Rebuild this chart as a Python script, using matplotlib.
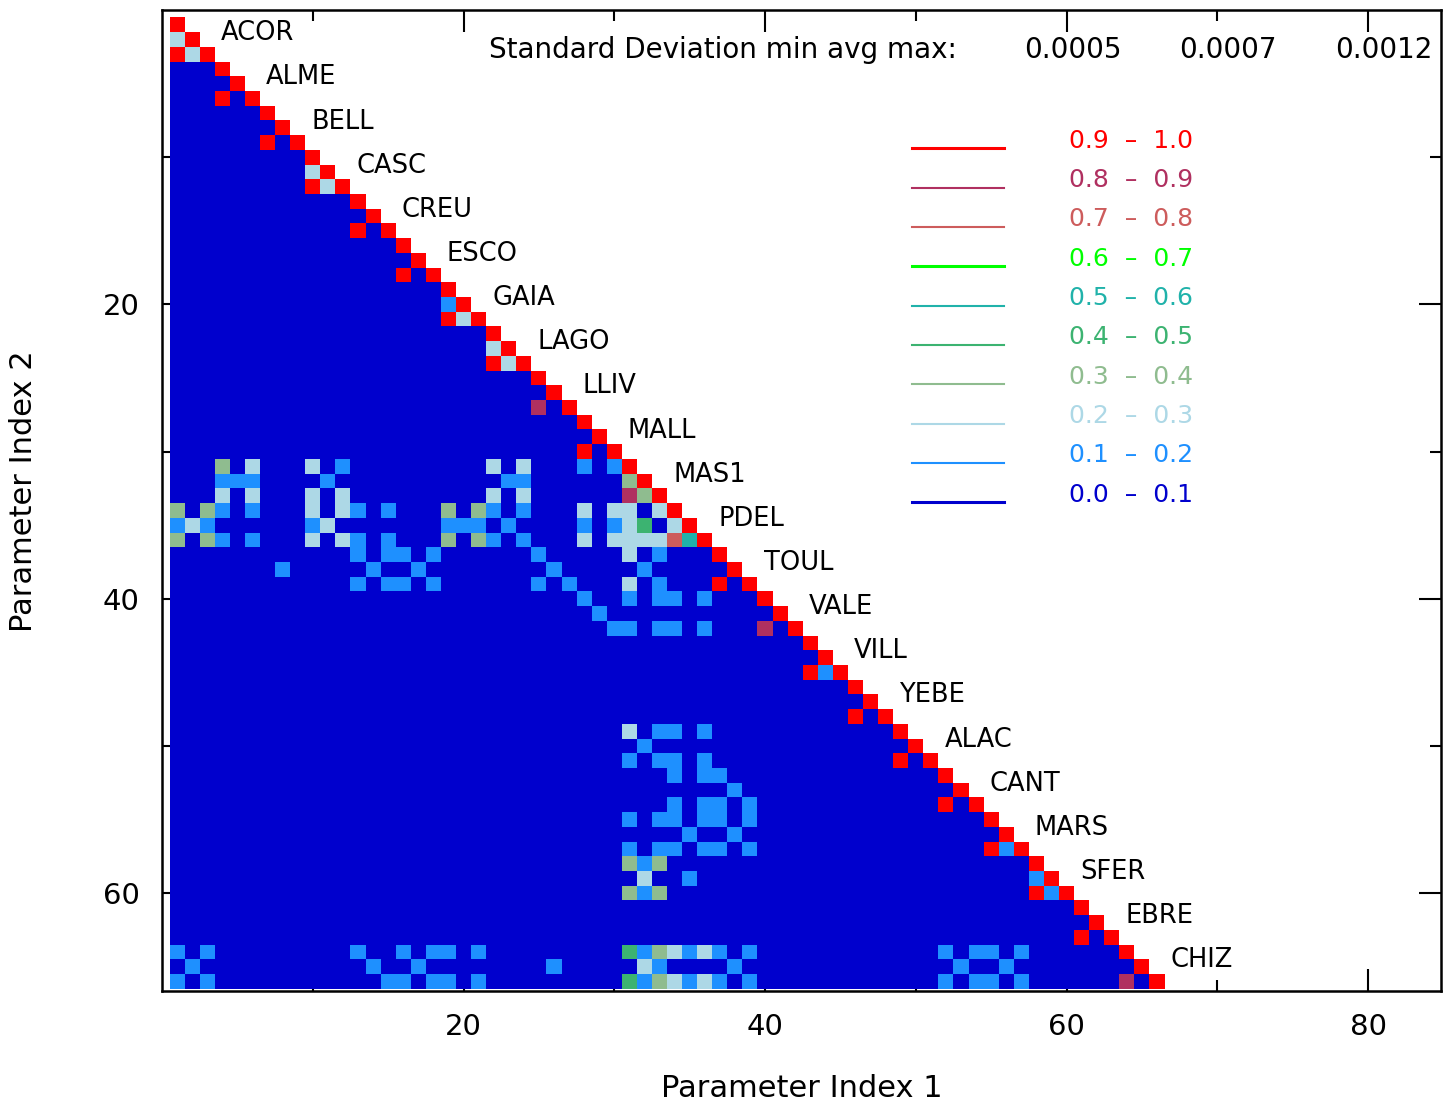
import numpy as np
import matplotlib
matplotlib.use("Agg")
import matplotlib.pyplot as plt
from matplotlib.colors import ListedColormap, BoundaryNorm

# 22 stations x 3 parameters each
stations = ["ACOR", "ALME", "BELL", "CASC", "CREU", "ESCO", "GAIA", "LAGO",
            "LLIV", "MALL", "MAS1", "PDEL", "TOUL", "VALE", "VILL", "YEBE",
            "ALAC", "CANT", "MARS", "SFER", "EBRE", "CHIZ"]
n_params = 3 * len(stations)

bin_labels = ["0.0  \u2013  0.1", "0.1  \u2013  0.2", "0.2  \u2013  0.3", "0.3  \u2013  0.4",
              "0.4  \u2013  0.5", "0.5  \u2013  0.6", "0.6  \u2013  0.7", "0.7  \u2013  0.8",
              "0.8  \u2013  0.9", "0.9  \u2013  1.0"]
bin_colors = ["#0000cd", "#1e90ff", "#add8e6", "#8fbc8f", "#3cb371",
              "#20b2aa", "#00ff00", "#cd5c5c", "#b03060", "#ff0000"]

std_dev = ["0.0005", "0.0007", "0.0012"]

# off-diagonal cells (row, col) by correlation class; everything else in the
# lower triangle is class 0, the diagonal is class 9
cells_01 = [(20, 19), (31, 12), (31, 28), (31, 30), (32, 4), (32, 5), (32, 6), (32, 11),
            (32, 23), (32, 24), (34, 4), (34, 6), (34, 13), (34, 15), (34, 22), (34, 24),
            (35, 1), (35, 3), (35, 10), (35, 19), (35, 20), (35, 21),
            (35, 23), (35, 28), (35, 30), (36, 4), (36, 6), (36, 13), (36, 15), (36, 22),
            (36, 24), (37, 13), (37, 15), (37, 16), (37, 18), (37, 25), (37, 33), (38, 8),
            (38, 14), (38, 17), (38, 26), (38, 32), (39, 13), (39, 15), (39, 16), (39, 18),
            (39, 25), (39, 27), (39, 33), (40, 28), (40, 31), (40, 33), (40, 34), (40, 36),
            (41, 29), (42, 30), (42, 31), (42, 33), (42, 34), (42, 36), (45, 44), (49, 33),
            (49, 34), (49, 36), (50, 32), (51, 31), (51, 33), (51, 34), (51, 36), (52, 34),
            (52, 36), (52, 37), (53, 38), (54, 34), (54, 36), (54, 37), (54, 39), (55, 31),
            (55, 33), (55, 34), (55, 36), (55, 37), (55, 39), (56, 35), (56, 38), (57, 31),
            (57, 33), (57, 34), (57, 36), (57, 37), (57, 39), (57, 56), (58, 32), (59, 35),
            (59, 58), (60, 32), (60, 59), (64, 1), (64, 3), (64, 13), (64, 16), (64, 18),
            (64, 19), (64, 21), (64, 32), (64, 35), (64, 37), (64, 39), (64, 52), (64, 54),
            (64, 55), (64, 57), (65, 2), (65, 14), (65, 17), (65, 26), (65, 33), (65, 38),
            (65, 53), (65, 56), (66, 1), (66, 3), (66, 15), (66, 16), (66, 18), (66, 19),
            (66, 21), (66, 32), (66, 35), (66, 37), (66, 39), (66, 52), (66, 54), (66, 55),
            (66, 57)]
cells_02 = [(2, 1), (3, 2), (11, 10), (12, 11), (21, 20), (23, 22), (24, 23), (31, 6),
            (31, 10), (31, 22), (31, 24), (33, 4), (33, 6), (33, 10), (33, 12), (33, 22),
            (33, 24), (34, 10), (34, 12), (34, 28), (34, 30), (34, 31), (34, 33), (35, 2),
            (35, 11), (35, 31), (35, 34), (36, 10), (36, 12), (36, 28), (36, 30), (36, 31),
            (36, 32), (36, 33), (37, 31), (39, 31), (49, 31), (59, 32), (64, 34), (64, 36),
            (65, 32), (66, 34), (66, 36)]
cells_03 = [(31, 4), (32, 31), (33, 32), (34, 1), (34, 3), (34, 19), (34, 21), (36, 1),
            (36, 3), (36, 19), (36, 21), (58, 31), (58, 33), (60, 31), (60, 33), (64, 33),
            (66, 33)]
cells_04 = [(35, 32), (64, 31), (66, 31)]
cells_05 = [(36, 35)]
cells_07 = [(36, 34)]
cells_08 = [(27, 25), (33, 31), (42, 40), (66, 64)]
cells_09 = [(3, 1), (6, 4), (9, 7), (12, 10), (15, 13), (18, 16), (21, 19), (24, 22),
            (30, 28), (39, 37), (45, 43), (48, 46), (51, 49), (54, 52), (57, 55), (60, 58),
            (63, 61)]

corr_class = np.full((n_params, n_params), np.nan)
for i in range(n_params):
    corr_class[i, :i + 1] = 0
    corr_class[i, i] = 9
for cls, cells in [(1, cells_01), (2, cells_02), (3, cells_03), (4, cells_04),
                   (5, cells_05), (7, cells_07), (8, cells_08), (9, cells_09)]:
    for r, c in cells:
        corr_class[r - 1, c - 1] = cls

cmap = ListedColormap(bin_colors)
norm = BoundaryNorm(np.arange(-0.5, 10.5, 1), cmap.N)

fig = plt.figure(figsize=(14.43, 11.04), dpi=100)
ax = fig.add_axes([0.1123, 0.1024, 0.8864, 0.8885])

edges = np.arange(0.5, n_params + 1)
ax.pcolormesh(edges, edges, np.ma.masked_invalid(corr_class), cmap=cmap, norm=norm,
              zorder=3)

ax.set_xlim(0, 84.85)
ax.set_ylim(66.65, 0)

ax.set_xticks([20, 40, 60, 80])
ax.set_xticks([10, 30, 50, 70], minor=True)
ax.set_yticks([20, 40, 60])
ax.set_yticks([10, 30, 50], minor=True)
ax.tick_params(which="both", direction="in", top=True, right=True, width=1.5,
               labelsize=21, pad=16)
ax.tick_params(which="major", length=16)
ax.tick_params(which="minor", length=8)
for sp in ax.spines.values():
    sp.set_linewidth(1.8)

ax.set_xlabel("Parameter Index 1", fontsize=22)
ax.set_ylabel("Parameter Index 2", fontsize=22)
ax.xaxis.set_label_coords(0.5, -0.085)
ax.yaxis.set_label_coords(-0.097, 0.51)

# station names along the diagonal
for k, name in enumerate(stations):
    b = 3 * k + 1
    ax.text(b + 2.9, b + 1.05, name, fontsize=18.5, va="baseline", ha="left", zorder=4)

# standard deviation line
ax.text(0.256, 0.959, "Standard Deviation min avg max:", transform=ax.transAxes,
        fontsize=20, va="center", ha="left")
for xpos, s in zip([0.674, 0.795, 0.917], std_dev):
    ax.text(xpos, 0.959, s, transform=ax.transAxes, fontsize=20, va="center", ha="left")

# hand-drawn legend, top bin first
for j, idx in enumerate(range(9, -1, -1)):
    y = 0.859 - 0.0401 * j
    lw = 2.2 if idx in (9, 6, 0) else 1.5
    ax.plot([0.586, 0.658], [y, y], color=bin_colors[idx], lw=lw,
            transform=ax.transAxes, zorder=4)
    ax.text(0.709, y + 0.008, bin_labels[idx], color=bin_colors[idx], fontsize=18,
            transform=ax.transAxes, va="center", ha="left")

fig.savefig("out.png", dpi=100)
